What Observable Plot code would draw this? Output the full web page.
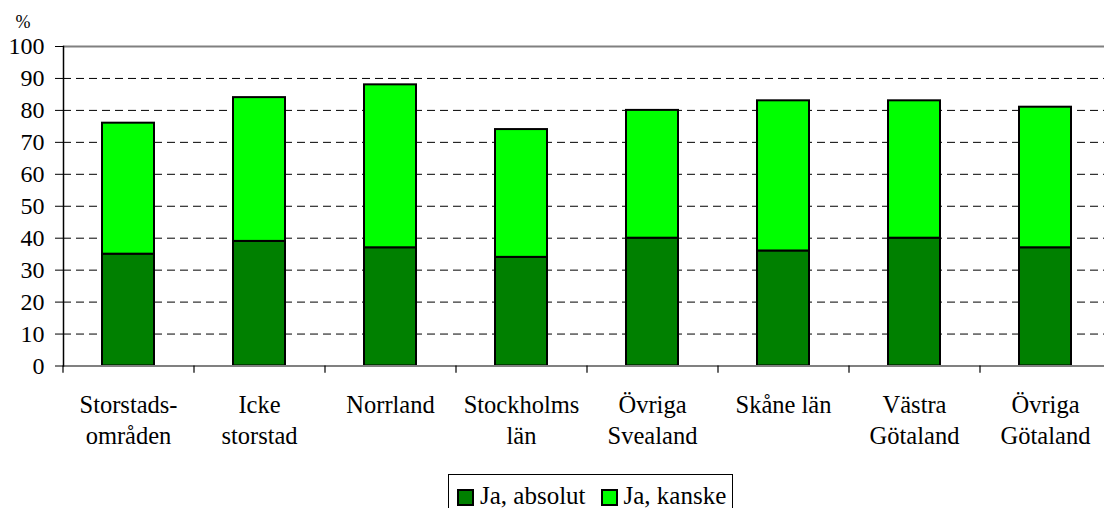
<!DOCTYPE html>
<html>
<head>
<meta charset="utf-8">
<script src="https://cdn.jsdelivr.net/npm/d3@7"></script>
<script src="https://cdn.jsdelivr.net/npm/@observablehq/plot@0.6"></script>
<style>
  html, body { margin: 0; padding: 0; background: #fff; overflow: hidden; font-family: 'Liberation Serif', serif; }
  #wrap { position: relative; width: 1104px; height: 508px; color: #000; font-family: 'Liberation Serif', serif; }
  #legend { position: absolute; left: 448px; top: 474px; width: 285px; height: 60px; box-sizing: border-box; border: 1px solid #000; padding: 8px 0 0 8px; display: flex; align-items: flex-start; font-size: 25px; line-height: 25px; background: #fff; font-family: 'Liberation Serif', serif; }
  .item { display: flex; align-items: flex-start; white-space: nowrap; margin-right: 15px; }
  .sw { width: 17px; height: 17px; box-sizing: border-box; border: 2px solid #000; display: inline-block; margin-top: 6px; margin-right: 6px; }
</style>
</head>
<body>
<div id="wrap"></div>
<script>
const categories = ["Storstadsområden", "Icke storstad", "Norrland", "Stockholms län", "Övriga Svealand", "Skåne län", "Västra Götaland", "Övriga Götaland"];
const tickLabels = ["Storstads-\nområden", "Icke\nstorstad", "Norrland", "Stockholms\nlän", "Övriga\nSvealand", "Skåne län", "Västra\nGötaland", "Övriga\nGötaland"];
const series = ["Ja, absolut", "Ja, kanske"];
const jaAbsolut = [35, 39, 37, 34, 40, 36, 40, 37];
const jaKanske = [41, 45, 51, 40, 40, 47, 43, 44];
const yTicks = [0, 10, 20, 30, 40, 50, 60, 70, 80, 90, 100];
const colors = ["#008000", "#00ff00"];

const data = [];
categories.forEach((c, i) => {
  data.push({cat: c, series: series[0], value: jaAbsolut[i]});
  data.push({cat: c, series: series[1], value: jaKanske[i]});
});
const labelOf = new Map(categories.map((c, i) => [c, tickLabels[i]]));

const chart = Plot.plot({
  width: 1104,
  height: 474,
  marginTop: 46,
  marginBottom: 108.5,
  marginLeft: 63,
  marginRight: 0,
  style: "font-family: 'Liberation Serif', serif; font-size: 24px; color: #000; background: #fff; overflow: hidden;",
  x: {domain: categories, range: [63, 1111], paddingInner: 0.6, paddingOuter: 0.3, axis: null},
  y: {domain: [0, 100], axis: null},
  color: {domain: series, range: colors},
  marks: [
    Plot.ruleY(yTicks.filter(t => t > 0 && t < 100), {y: d => d, stroke: "#000", strokeWidth: 1, strokeDasharray: "8,5"}),
    Plot.ruleY([100], {y: d => d, stroke: "#808080", strokeWidth: 2}),
    Plot.barY(data, {x: "cat", y: "value", fill: "series", stroke: "#000", strokeWidth: 2, order: series}),
    Plot.ruleY([0], {y: d => d, stroke: "#808080", strokeWidth: 2}),
    Plot.ruleX(categories, {x: d => d, dx: -65.5, y1: 0, y2: -2.3, stroke: "#000", strokeWidth: 1.2}),
    Plot.frame({anchor: "left", stroke: "#000", strokeWidth: 1.5}),
    Plot.axisY(yTicks, {tickSize: 8, tickPadding: 11, fontSize: 24, fontFamily: "Liberation Serif", tickFormat: d => String(d), label: null, stroke: "#000"}),
    Plot.text(categories, {x: d => d, y: () => 0, text: d => labelOf.get(d), dy: 24, lineAnchor: "top", lineHeight: 1.3, fontSize: 24.5, fontFamily: "Liberation Serif", fill: "#000"}),
    Plot.text(["%"], {frameAnchor: "top-left", dx: -48, dy: -31, fontSize: 18, fontFamily: "Liberation Serif", fill: "#000"})
  ]
});

const wrap = document.getElementById("wrap");
wrap.appendChild(chart);
chart.querySelectorAll("text").forEach(t => t.setAttribute("font-family", "Liberation Serif"));

const legend = document.createElement("div");
legend.id = "legend";
series.forEach((s, i) => {
  const it = document.createElement("div");
  it.className = "item";
  const sw = document.createElement("span");
  sw.className = "sw";
  sw.style.background = colors[i];
  const t = document.createElement("span");
  t.textContent = s;
  it.appendChild(sw);
  it.appendChild(t);
  legend.appendChild(it);
});
wrap.appendChild(legend);
</script>
</body>
</html>
